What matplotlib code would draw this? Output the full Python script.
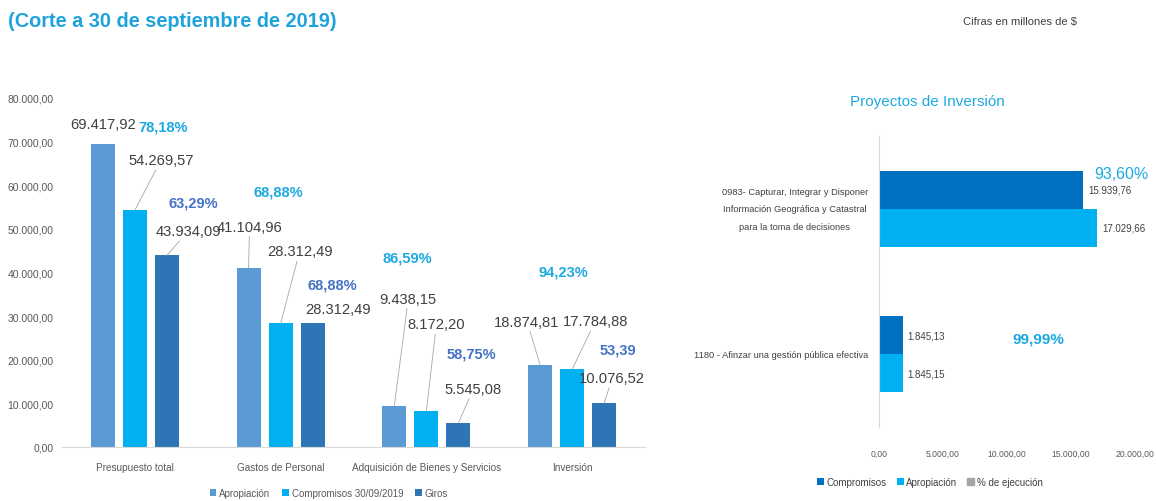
import matplotlib
matplotlib.use("Agg")
import matplotlib.pyplot as plt
import numpy as np
from matplotlib.patches import Patch
from matplotlib.ticker import FuncFormatter

plt.rcParams['font.family'] = ['Liberation Sans', 'DejaVu Sans']

# ---------------- data ----------------
categories = ["Presupuesto total", "Gastos de Personal",
              "Adquisición de Bienes y Servicios", "Inversión"]
apropiacion = [69417.92, 41104.96, 9438.15, 18874.81]
compromisos = [54269.57, 28312.49, 8172.20, 17784.88]
giros = [43934.09, 28312.49, 5545.08, 10076.52]
pct_comp = ["78,18%", "68,88%", "86,59%", "94,23%"]
pct_giros = ["63,29%", "68,88%", "58,75%", "53,39"]
y_ticks = [0, 10000, 20000, 30000, 40000, 50000, 60000, 70000, 80000]

proyectos = ["0983- Capturar, Integrar y Disponer\nInformación Geográfica y Catastral\npara la toma de decisiones",
             "1180 - Afinzar una gestión pública efectiva"]
proy_compromisos = [15939.76, 1845.13]
proy_apropiacion = [17029.66, 1845.15]
proy_pct = ["93,60%", "99,99%"]
x_ticks_right = [0, 5000, 10000, 15000, 20000]

# ---------------- helpers ----------------
def fmt_es(v):
    s = f"{v:,.2f}"
    return s.replace(",", "X").replace(".", ",").replace("X", ".")

C_APR = "#5B9BD5"
C_COM = "#00B0F0"
C_GIR = "#2E75B6"
C_PCT1 = "#1CA9E1"
C_PCT2 = "#4472C4"
TXT = "#404040"
TICK = "#595959"

fig = plt.figure(figsize=(11.56, 5.02), dpi=100)

fig.text(0.007, 0.958, "(Corte a 30 de septiembre de 2019)", color="#1FA3DC",
         fontsize=14.3, fontweight="bold", ha="left", va="center")
fig.text(0.882, 0.956, "Cifras en millones de $", color=TXT, fontsize=8,
         ha="center", va="center")

# ---------------- left chart ----------------
ax = fig.add_axes([62/1156, 54/502, 583/1156, 349/502])
x = np.arange(len(categories))
step, w = 0.22, 0.165
series = [apropiacion, compromisos, giros]
colors = [C_APR, C_COM, C_GIR]
names = ["Apropiación", "Compromisos 30/09/2019", "Giros"]
bars = []
for k, (vals, c, n) in enumerate(zip(series, colors, names)):
    bars.append(ax.bar(x + (k - 1) * step, vals, width=w, color=c, label=n))

ax.set_xlim(-0.5, len(categories) - 0.5)
ax.set_ylim(0, 80000)
ax.set_yticks(y_ticks)
ax.yaxis.set_major_formatter(FuncFormatter(lambda v, p: fmt_es(v)))
ax.set_xticks(x)
ax.set_xticklabels(categories)
ax.tick_params(axis="y", length=0, pad=6, labelsize=7.5, labelcolor=TICK)
ax.tick_params(axis="x", length=0, pad=11, labelsize=7.2, labelcolor=TICK)
for s in ["top", "right", "left"]:
    ax.spines[s].set_visible(False)
ax.spines["bottom"].set_color("#D9D9D9")

# value label offsets in pixels (dx, dy) and whether a leader line is drawn
offsets = [
    [(0, 20, False), (1, 41, True), (14, 107, True), (-13, 43, True)],
    [(26, 50, True), (19, 72, True), (10, 87, True), (23, 48, True)],
    [(21, 24, True), (25, 14, False), (15, 34, True), (8, 25, True)],
]
for k, vals in enumerate(series):
    for i, v in enumerate(vals):
        dx, dy, line = offsets[k][i]
        ap = dict(arrowstyle="-", color="#A6A6A6", lw=0.6, shrinkA=0, shrinkB=0) if line else None
        ax.annotate(fmt_es(v), xy=(x[i] + (k - 1) * step, v), xytext=(dx, dy),
                    textcoords="offset pixels", ha="center", va="center",
                    fontsize=10.6, color=TXT, arrowprops=ap, annotation_clip=False)

pct1_pos = [(0.195, 73580), (0.986, 58680), (1.87, 43550), (2.938, 40340)]
pct2_pos = [(0.40, 56160), (1.356, 37360), (2.308, 21320), (3.315, 22460)]
for i in range(len(categories)):
    ax.text(*pct1_pos[i], pct_comp[i], color=C_PCT1, fontsize=10.5, fontweight="bold",
            ha="center", va="center")
    ax.text(*pct2_pos[i], pct_giros[i], color=C_PCT2, fontsize=10.5, fontweight="bold",
            ha="center", va="center")

fig.legend(handles=[b for b in bars], labels=names, loc="center",
           bbox_to_anchor=(329/1156, 1 - 494/502), ncol=3, frameon=False,
           fontsize=7, handlelength=0.7, handleheight=0.7, handletextpad=0.3,
           columnspacing=1.2, labelcolor=TICK)

# ---------------- right chart ----------------
ax2 = fig.add_axes([879/1156, 74/502, 256/1156, 291/502])
y = np.arange(len(proyectos))
h = 0.26
C_RCOM = "#0070C0"
C_RAPR = "#00B0F0"
b1 = ax2.barh(y - h / 2, proy_compromisos, height=h, color=C_RCOM, label="Compromisos")
b2 = ax2.barh(y + h / 2, proy_apropiacion, height=h, color=C_RAPR, label="Apropiación")
ax2.set_ylim(len(proyectos) - 0.5, -0.5)
ax2.set_xlim(0, 20000)
ax2.set_xticks(x_ticks_right)
ax2.xaxis.set_major_formatter(FuncFormatter(lambda v, p: fmt_es(v)))
ax2.set_yticks(y)
ax2.set_yticklabels(proyectos)
for lbl in ax2.get_yticklabels():
    lbl.set_multialignment("center")
    lbl.set_linespacing(2.2)
    lbl.set_va("center")
ax2.tick_params(axis="y", length=0, pad=8, labelsize=6.7, labelcolor=TXT)
ax2.tick_params(axis="x", length=0, pad=16, labelsize=6.2, labelcolor=TICK)
for s in ["top", "right", "bottom"]:
    ax2.spines[s].set_visible(False)
ax2.spines["left"].set_color("#D9D9D9")

for i in range(len(proyectos)):
    ax2.annotate(fmt_es(proy_compromisos[i]), xy=(proy_compromisos[i], y[i] - h / 2),
                 xytext=(5, 0), textcoords="offset pixels", ha="left", va="center",
                 fontsize=7, color=TXT)
    ax2.annotate(fmt_es(proy_apropiacion[i]), xy=(proy_apropiacion[i], y[i] + h / 2),
                 xytext=(5, 0), textcoords="offset pixels", ha="left", va="center",
                 fontsize=7, color=TXT)

ax2.text(18900, -0.24, proy_pct[0], color=C_PCT1, fontsize=11.5, ha="center", va="center")
ax2.text(12420, 0.89, proy_pct[1], color=C_PCT1, fontsize=11, fontweight="bold",
         ha="center", va="center")

fig.text(927/1156, 1 - 102/502, "Proyectos de Inversión", color=C_PCT1, fontsize=11,
         ha="center", va="center")

fig.legend(handles=[b1, b2, Patch(color="#A5A5A5")],
           labels=["Compromisos", "Apropiación", "% de ejecución"], loc="center",
           bbox_to_anchor=(930/1156, 1 - 483/502), ncol=3, frameon=False,
           fontsize=7, handlelength=0.7, handleheight=0.7, handletextpad=0.3,
           columnspacing=1.0, labelcolor=TXT)

fig.savefig("out.png", dpi=100, facecolor="white")
